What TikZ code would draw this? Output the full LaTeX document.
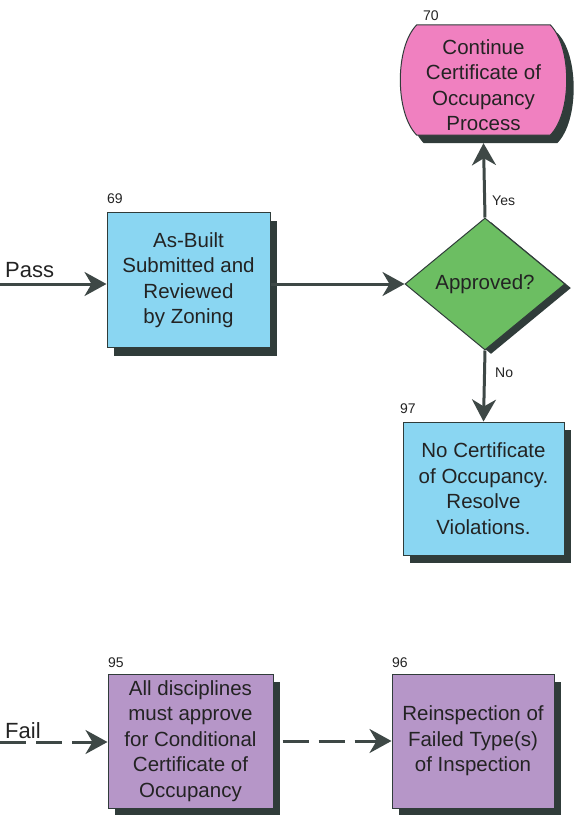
\documentclass[tikz,border=0pt]{standalone}
\usepackage{fontspec}
\setmainfont{Liberation Sans}
\usetikzlibrary{shapes.geometric,shadows,arrows.meta,backgrounds}
\definecolor{boxcyan}{RGB}{138,214,242}
\definecolor{boxpink}{RGB}{240,128,192}
\definecolor{boxgreen}{RGB}{108,190,98}
\definecolor{boxpurple}{RGB}{182,150,200}
\definecolor{shadowc}{RGB}{48,60,58}
\definecolor{linec}{RGB}{62,72,70}
\definecolor{ink}{RGB}{35,35,35}

\begin{document}
\begin{tikzpicture}[x=1pt,y=-1pt,
  every node/.style={text=ink, font=\fontsize{20.5}{25.5}\selectfont, inner sep=0pt, align=center},
  proc/.style={rectangle, draw=shadowc, line width=1pt, minimum width=163pt, minimum height=135pt,
    drop shadow={shadow xshift=7pt, shadow yshift=-8pt, fill=shadowc, opacity=1}},
  decision/.style={diamond, draw=shadowc, line width=1pt, fill=boxgreen, minimum width=160pt, minimum height=132pt,
    drop shadow={shadow xshift=6pt, shadow yshift=-4pt, fill=shadowc, opacity=1}},
  small/.style={font=\fontsize{14}{16}\selectfont},
  tag/.style={font=\fontsize{22}{26}\selectfont},
  flow/.style={draw=linec, line width=3pt, -{Stealth[length=22pt,width=24pt,inset=7pt]}},
  dashflow/.style={flow, dash pattern=on 26pt off 10pt}]

\useasboundingbox (0,0) rectangle (587,815);

% process boxes and decision
\node[proc, fill=boxcyan] (n69) at (188.5,280) {As-Built\\Submitted and\\Reviewed\\by Zoning};
\node[decision] (dia) at (485,284) {Approved?};
\node[proc, fill=boxcyan, minimum width=161pt, minimum height=133pt] (n97) at (483.5,488.5)
  {No Certificate\\of Occupancy.\\Resolve\\Violations.};
\node[proc, fill=boxpurple, minimum width=165pt, minimum height=134pt] (n95) at (190.5,741)
  {All disciplines\\must approve\\for Conditional\\Certificate of\\Occupancy};
\node[proc, fill=boxpurple, minimum width=162pt, minimum height=134pt] (n96) at (473,741)
  {Reinspection of\\Failed Type(s)\\of Inspection};

% terminal with bulging sides
\node[minimum width=133pt, minimum height=110pt] (n70) at (483.5,80) {};
\node (t70) at ([yshift=-5pt]n70.center) {Continue\\Certificate of\\Occupancy\\Process};
\begin{scope}[on background layer]
  \fill[shadowc]
    ([shift={(7,8)}]n70.north west) -- ([shift={(7,8)}]n70.north east)
    .. controls +(22,22) and +(22,-22) .. ([shift={(7,8)}]n70.south east)
    -- ([shift={(7,8)}]n70.south west)
    .. controls +(-22,-22) and +(-22,22) .. ([shift={(7,8)}]n70.north west) -- cycle;
  \filldraw[fill=boxpink, draw=shadowc, line width=1pt]
    (n70.north west) -- (n70.north east) .. controls +(22,22) and +(22,-22) .. (n70.south east)
    -- (n70.south west) .. controls +(-22,-22) and +(-22,22) .. (n70.north west) -- cycle;
\end{scope}

% step numbers
\node[small, anchor=base west] (l69) at (107,203) {69};
\node[small, anchor=base west] (l70) at (423,20) {70};
\node[small, anchor=base west] (l97) at (400,413) {97};
\node[small, anchor=base west] (l95) at (108,667) {95};
\node[small, anchor=base west] (l96) at (392,667) {96};

% branch labels
\node[small, anchor=base west] (yes) at (492,205) {Yes};
\node[small, anchor=base west] (no) at (495,377) {No};
\node[tag, anchor=base west] (pass) at (5,277) {Pass};
\node[tag, anchor=base west] (fail) at (5,738) {Fail};

% connectors
\coordinate (passin) at (0,284);
\coordinate (failin) at (0,742);
\draw[flow] (passin) -- (passin -| n69.west);
\draw[flow] (n69.east |- dia.west) -- (dia.west);
\draw[flow] (dia.north) -- ([yshift=-8pt]n70.south);
\draw[flow] (dia.south) -- (n97.north);
\draw[dashflow] (failin) -- (failin -| n95.west);
\draw[dashflow, shorten <=9pt] (n95.east) -- (n96.west);
\end{tikzpicture}
\end{document}
